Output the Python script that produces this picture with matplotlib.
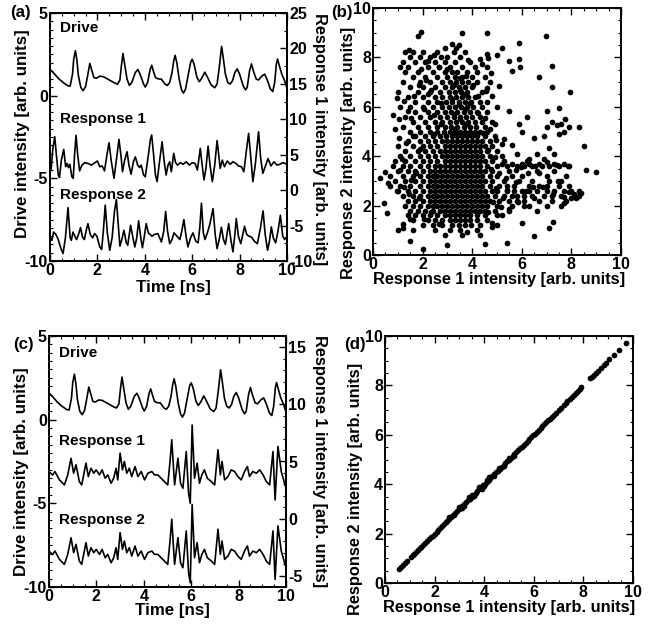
import matplotlib
matplotlib.use('Agg')
import matplotlib.pyplot as plt
from matplotlib.ticker import MultipleLocator

plt.rcParams['font.family'] = ['Liberation Sans', 'DejaVu Sans']
plt.rcParams['font.weight'] = 'bold'
plt.rcParams['axes.labelweight'] = 'bold'
plt.rcParams['axes.unicode_minus'] = False

# ---------------- data ----------------
drive = [(0.00, 1.60), (0.10, 1.45), (0.20, 1.30), (0.35, 1.05), (0.55, 0.80), (0.75, 0.60),
         (0.85, 0.58), (0.95, 1.30), (1.00, 2.20), (1.07, 2.72), (1.13, 2.20), (1.20, 1.20),
         (1.30, 0.50), (1.40, 0.30), (1.50, 0.55), (1.60, 1.30), (1.68, 1.95), (1.75, 1.60),
         (1.85, 1.10), (1.95, 1.05), (2.10, 1.18), (2.25, 1.15), (2.50, 0.95), (2.75, 0.75),
         (2.85, 0.70), (2.95, 0.95), (3.02, 1.90), (3.08, 2.55), (3.15, 1.90), (3.25, 1.00),
         (3.35, 0.62), (3.45, 0.80), (3.60, 1.40), (3.71, 1.58), (3.80, 1.30), (3.95, 0.70),
         (4.02, 0.52), (4.12, 0.80), (4.22, 1.55), (4.29, 1.84), (4.36, 1.50), (4.45, 1.10),
         (4.55, 1.02), (4.70, 1.00), (4.85, 0.70), (4.95, 0.62), (5.05, 0.80), (5.15, 1.40),
         (5.22, 2.10), (5.28, 2.44), (5.35, 2.00), (5.45, 1.00), (5.55, 0.35), (5.63, 0.15),
         (5.72, 0.40), (5.85, 1.40), (5.94, 2.05), (6.00, 2.20), (6.08, 1.90), (6.20, 1.10),
         (6.30, 0.85), (6.40, 1.05), (6.53, 1.42), (6.65, 1.10), (6.80, 0.65), (6.95, 0.48),
         (7.05, 0.70), (7.15, 1.80), (7.24, 2.98), (7.30, 2.40), (7.40, 1.30), (7.50, 0.80),
         (7.60, 0.70), (7.70, 0.90), (7.80, 1.40), (7.90, 1.62), (8.00, 1.30), (8.15, 0.60),
         (8.25, 0.35), (8.32, 0.50), (8.42, 1.50), (8.50, 1.92), (8.58, 1.50), (8.70, 1.00),
         (8.80, 0.95), (8.95, 1.20), (9.06, 1.30), (9.18, 0.90), (9.30, 0.40), (9.40, 0.25),
         (9.48, 0.80), (9.55, 1.90), (9.60, 2.22), (9.68, 1.80), (9.78, 1.30), (9.90, 0.90),
         (10.00, 0.45)]

resp1_a = [(0.00, -4.70), (0.05, -4.40), (0.12, -3.20), (0.20, -2.48), (0.27, -3.60), (0.35, -4.80),
           (0.40, -4.95), (0.48, -3.90), (0.58, -3.25), (0.66, -4.30), (0.72, -4.10), (0.78, -4.35),
           (0.84, -4.15), (0.92, -4.90), (0.98, -5.00), (1.04, -3.50), (1.10, -2.40), (1.17, -3.60),
           (1.25, -4.55), (1.35, -4.20), (1.46, -4.05), (1.60, -4.10), (1.75, -4.20), (1.90, -4.05),
           (2.00, -3.95), (2.10, -4.30), (2.20, -4.25), (2.30, -4.55), (2.40, -3.60), (2.49, -2.85),
           (2.58, -3.90), (2.70, -5.00), (2.80, -3.90), (2.91, -2.64), (3.00, -3.70), (3.06, -4.60),
           (3.15, -3.90), (3.25, -3.39), (3.33, -4.20), (3.42, -4.75), (3.52, -4.00), (3.60, -3.70),
           (3.70, -4.20), (3.78, -4.35), (3.85, -4.20), (3.95, -4.80), (4.02, -4.90), (4.15, -3.60),
           (4.23, -2.70), (4.29, -2.38), (4.36, -3.40), (4.45, -4.80), (4.52, -5.20), (4.62, -4.00),
           (4.73, -2.79), (4.82, -4.00), (4.90, -4.80), (4.98, -4.20), (5.05, -4.00), (5.12, -4.60),
           (5.22, -3.49), (5.30, -4.05), (5.38, -4.20), (5.50, -4.05), (5.62, -4.15), (5.75, -4.00),
           (5.88, -4.20), (6.00, -4.05), (6.12, -4.10), (6.22, -4.50), (6.34, -3.19), (6.42, -4.20),
           (6.50, -5.10), (6.58, -4.40), (6.67, -3.05), (6.76, -4.30), (6.85, -5.20), (6.95, -4.20),
           (7.05, -2.72), (7.12, -3.60), (7.18, -4.40), (7.27, -3.90), (7.36, -4.30), (7.48, -3.95),
           (7.60, -4.15), (7.72, -4.00), (7.85, -4.10), (7.95, -4.25), (8.08, -4.30), (8.18, -4.60),
           (8.28, -3.40), (8.38, -2.28), (8.47, -3.70), (8.56, -5.20), (8.66, -4.20), (8.80, -2.18),
           (8.89, -3.80), (8.98, -4.70), (9.08, -4.30), (9.20, -3.80), (9.32, -4.25), (9.45, -4.00),
           (9.58, -4.20), (9.70, -4.15), (9.82, -4.05), (10.00, -4.15)]

resp2_a = [(0.00, -8.55), (0.08, -8.75), (0.15, -8.25), (0.25, -8.40), (0.35, -8.70), (0.45, -9.20),
           (0.55, -9.55), (0.65, -8.60), (0.76, -6.77), (0.85, -8.60), (0.90, -8.75), (0.97, -8.25),
           (1.05, -8.50), (1.12, -8.70), (1.20, -8.40), (1.29, -7.98), (1.37, -8.55), (1.45, -8.70),
           (1.52, -8.20), (1.60, -7.74), (1.70, -8.40), (1.80, -8.60), (1.88, -8.34), (1.98, -8.50),
           (2.10, -9.15), (2.18, -9.30), (2.25, -8.20), (2.33, -6.62), (2.42, -8.30), (2.52, -9.35),
           (2.62, -8.60), (2.72, -7.00), (2.80, -6.28), (2.88, -7.80), (2.95, -9.10), (3.03, -8.70),
           (3.12, -8.14), (3.22, -8.90), (3.28, -9.05), (3.40, -7.84), (3.50, -8.60), (3.58, -9.15),
           (3.66, -8.60), (3.74, -7.57), (3.84, -8.70), (3.90, -9.20), (3.98, -8.50), (4.06, -7.74),
           (4.15, -8.30), (4.30, -8.50), (4.40, -8.40), (4.55, -8.34), (4.70, -8.85), (4.80, -8.20),
           (4.88, -7.00), (4.96, -8.20), (5.05, -8.95), (5.15, -8.70), (5.23, -8.30), (5.36, -8.50),
           (5.48, -8.70), (5.56, -8.20), (5.65, -7.49), (5.74, -8.50), (5.82, -9.15), (5.93, -8.60),
           (6.03, -8.30), (6.15, -8.80), (6.25, -8.90), (6.32, -8.00), (6.39, -6.50), (6.47, -8.30),
           (6.54, -8.70), (6.64, -8.30), (6.74, -7.80), (6.88, -6.83), (6.97, -8.40), (7.05, -9.25),
           (7.14, -8.70), (7.23, -7.96), (7.32, -8.70), (7.40, -9.00), (7.54, -7.74), (7.64, -8.80),
           (7.72, -9.45), (7.80, -8.40), (7.86, -7.43), (7.95, -8.50), (8.05, -8.95), (8.21, -7.90),
           (8.30, -8.40), (8.40, -8.50), (8.50, -8.55), (8.62, -8.80), (8.75, -8.95), (8.88, -8.00),
           (8.99, -6.97), (9.08, -8.40), (9.18, -9.35), (9.26, -8.80), (9.34, -7.94), (9.42, -8.60),
           (9.52, -8.90), (9.62, -8.20), (9.72, -7.23), (9.82, -8.50), (9.90, -8.70), (10.00, -8.50)]

resp_c = [(0.00, -3.10), (0.15, -3.31), (0.25, -3.10), (0.44, -3.60), (0.65, -3.90), (0.79, -3.30),
          (0.93, -2.31), (1.04, -3.20), (1.14, -2.70), (1.28, -3.70), (1.38, -3.90), (1.56, -2.60),
          (1.66, -3.40), (1.77, -2.90), (1.89, -3.20), (1.99, -3.00), (2.13, -3.30), (2.24, -3.00),
          (2.37, -3.50), (2.48, -3.30), (2.62, -3.80), (2.73, -3.50), (2.83, -2.90), (2.90, -3.60),
          (3.00, -2.00), (3.10, -3.00), (3.18, -2.50), (3.28, -3.20), (3.39, -2.90), (3.49, -3.40),
          (3.63, -2.80), (3.75, -3.40), (3.89, -3.10), (4.03, -3.60), (4.17, -3.20), (4.34, -3.10),
          (4.45, -3.30), (4.59, -3.30), (4.80, -3.60), (5.01, -3.90), (5.10, -2.60), (5.18, -1.20),
          (5.24, -2.60), (5.30, -3.90), (5.44, -2.30), (5.55, -3.80), (5.65, -4.10), (5.79, -1.90),
          (5.89, -4.40), (5.96, -5.00), (6.04, -0.32), (6.14, -3.50), (6.25, -2.60), (6.35, -3.80),
          (6.45, -3.30), (6.56, -3.00), (6.68, -3.50), (6.85, -3.70), (6.99, -3.90), (7.13, -1.80),
          (7.23, -3.30), (7.30, -2.50), (7.41, -3.60), (7.55, -3.40), (7.69, -3.00), (7.83, -3.10),
          (7.97, -3.40), (8.11, -3.60), (8.25, -3.10), (8.37, -2.80), (8.46, -3.40), (8.60, -3.10),
          (8.75, -3.20), (8.89, -3.00), (9.03, -3.30), (9.17, -3.70), (9.31, -3.90), (9.45, -1.90),
          (9.54, -4.80), (9.66, -1.60), (9.80, -3.10), (9.94, -3.80), (10.00, -4.10)]
resp2_offset_c = 4.75  # Response 2 trace in (c) is drawn 4.75 units below Response 1

# scatter (b): dense rows (y, [x ...]) and individual points (x, y)
b_rows = [
    (8.2, [1.3, 1.6, 2.0, 2.6, 3.25, 3.7]),
    (8.0, [1.5, 1.9, 2.3, 2.75, 3.0, 3.5]),
    (7.8, [1.2, 1.7, 2.1, 2.5, 2.9, 3.3, 3.9]),
    (7.6, [1.1, 1.4, 2.2, 2.65, 3.1, 3.6, 4.1, 4.6]),
    (7.4, [1.8, 2.4, 2.9, 3.2, 3.8, 4.2]),
    (7.2, [1.6, 2.1, 2.6, 3.0, 3.3, 3.6, 4.0, 4.5]),
    (7.0, [1.2, 1.9, 2.3, 2.8, 3.1, 3.35, 3.6, 3.85, 4.2]),
    (6.8, [1.5, 2.0, 2.5, 2.9, 3.2, 3.45, 3.7, 4.0]),
    (6.6, [1.0, 1.8, 2.3, 2.7, 3.05, 3.3, 3.55, 3.8, 4.4]),
    (6.4, [1.4, 2.0, 2.5, 2.8, 3.1, 3.35, 3.6, 3.85, 4.1]),
    (6.2, [1.7, 2.2, 2.6, 2.95, 3.2, 3.45, 3.7, 3.95, 4.3, 4.6]),
    (6.0, [1.1, 1.5, 2.0, 2.4, 2.8, 3.05, 3.3, 3.55, 3.8, 4.05, 4.4]),
    (5.8, [1.7, 2.2, 2.6, 2.9, 3.15, 3.4, 3.65, 3.9, 4.2, 4.6]),
    (5.6, [1.3, 1.9, 2.3, 2.7, 3.0, 3.25, 3.5, 3.75, 4.0, 4.3]),
    (5.4, [1.6, 2.1, 2.5, 2.8, 3.1, 3.35, 3.6, 3.85, 4.1, 4.4, 4.8]),
    (5.2, [1.8, 2.2, 2.6, 2.9, 3.15, 3.4, 3.65, 3.9, 4.15, 4.5]),
    (5.0, [1.5, 1.9, 2.3, 2.6, 2.85, 3.1, 3.3, 3.5, 3.7, 3.9, 4.1, 4.3, 4.6]),
    (4.8, [1.7, 2.1, 2.4, 2.7, 2.95, 3.2, 3.4, 3.6, 3.8, 4.0, 4.2, 4.5, 4.9]),
    (4.6, [1.4, 1.9, 2.2, 2.5, 2.8, 3.0, 3.2, 3.4, 3.6, 3.8, 4.0, 4.2, 4.4, 4.7]),
    (4.4, [1.0, 1.6, 2.0, 2.3, 2.6, 2.9, 3.1, 3.3, 3.5, 3.7, 3.9, 4.1, 4.3, 4.5, 4.8]),
    (4.2, [1.3, 1.8, 2.1, 2.4, 2.7, 2.9, 3.1, 3.3, 3.5, 3.7, 3.9, 4.1, 4.3, 4.6, 5.0]),
    (4.0, [1.1, 1.5, 1.9, 2.2, 2.5, 2.8, 3.0, 3.2, 3.4, 3.6, 3.8, 4.0, 4.2, 4.4, 4.7, 5.2]),
    (3.8, [0.9, 1.3, 1.7, 2.0, 2.3, 2.6, 2.9, 3.1, 3.3, 3.5, 3.7, 3.9, 4.1, 4.3, 4.5, 4.8, 5.3]),
    (3.6, [0.8, 1.2, 1.5, 1.9, 2.2, 2.5, 2.7, 2.9, 3.1, 3.3, 3.5, 3.7, 3.9, 4.1, 4.3, 4.6, 5.0, 5.4, 5.8, 6.1, 6.4, 6.8, 7.1, 7.5, 7.9]),
    (3.4, [1.0, 1.4, 1.7, 2.0, 2.3, 2.5, 2.7, 2.9, 3.1, 3.3, 3.5, 3.7, 3.9, 4.1, 4.3, 4.5, 4.8, 5.5, 6.6, 7.3]),
    (3.2, [0.7, 1.2, 1.6, 1.9, 2.2, 2.4, 2.6, 2.8, 3.0, 3.2, 3.4, 3.6, 3.8, 4.0, 4.2, 4.4, 4.7, 5.0, 5.6, 6.0, 7.0, 7.8]),
    (3.0, [0.9, 1.3, 1.7, 2.0, 2.3, 2.5, 2.7, 2.9, 3.1, 3.3, 3.5, 3.7, 3.9, 4.1, 4.3, 4.5, 4.8, 5.3, 5.9, 6.4, 7.1, 7.6]),
    (2.8, [0.7, 1.1, 1.5, 1.9, 2.2, 2.4, 2.6, 2.8, 3.0, 3.2, 3.4, 3.6, 3.8, 4.0, 4.2, 4.4, 4.7, 5.1, 5.4, 5.7, 6.3, 6.7, 7.0, 7.5, 7.9]),
    (2.6, [1.0, 1.4, 1.7, 2.0, 2.3, 2.5, 2.7, 2.9, 3.1, 3.3, 3.5, 3.7, 3.9, 4.1, 4.3, 4.5, 4.8, 5.0, 5.4, 5.7, 6.0, 6.3, 6.6, 7.0, 7.3, 7.7, 8.0]),
    (2.4, [1.2, 1.6, 1.9, 2.2, 2.4, 2.6, 2.8, 3.0, 3.2, 3.4, 3.6, 3.8, 4.0, 4.2, 4.4, 4.6, 4.9, 5.3, 5.6, 5.8, 6.1, 6.4, 6.9, 7.2, 7.6, 8.3]),
    (2.2, [1.4, 1.7, 2.0, 2.3, 2.5, 2.7, 2.9, 3.1, 3.3, 3.5, 3.7, 3.9, 4.1, 4.3, 4.5, 4.7, 5.1, 5.5, 5.8, 6.1, 6.7, 7.2, 7.8]),
    (2.0, [1.3, 1.6, 1.9, 2.2, 2.4, 2.6, 2.8, 3.0, 3.2, 3.4, 3.6, 3.8, 4.0, 4.2, 4.4, 4.6, 5.0, 5.6, 6.3, 7.0, 7.6]),
    (1.8, [1.5, 1.8, 2.1, 2.4, 2.7, 2.9, 3.1, 3.3, 3.5, 3.7, 3.9, 4.1, 4.3, 4.5, 4.9, 5.5, 6.6]),
    (1.6, [1.4, 1.7, 2.0, 2.3, 2.6, 2.9, 3.1, 3.3, 3.5, 3.7, 3.9, 4.2, 4.5, 5.0]),
    (1.4, [1.6, 2.2, 2.5, 2.8, 3.1, 3.3, 3.5, 3.7, 3.9, 4.2, 4.6]),
    (1.2, [2.0, 2.4, 2.8, 3.2, 3.45, 3.7, 3.95, 4.3, 5.0]),
]
b_points = [(1.92, 9.03), (1.81, 8.85), (3.58, 8.97), (4.6, 8.98), (6.98, 8.87), (5.9, 8.57),
            (3.2, 8.55), (3.48, 8.5), (1.45, 8.3), (2.9, 8.38), (3.35, 8.4), (5.2, 8.4),
            (4.6, 8.13), (5.0, 8.1), (4.3, 7.92), (4.65, 7.98), (5.9, 7.95), (5.5, 7.85),
            (4.4, 7.75), (7.2, 7.65), (5.92, 7.6), (5.6, 7.45), (1.3, 7.42), (4.75, 7.35),
            (6.7, 7.2), (4.7, 7.02), (7.22, 6.8), (5.1, 6.85), (4.6, 6.78), (4.55, 6.65),
            (4.8, 6.45), (7.95, 6.6), (7.5, 5.95), (5.0, 6.0), (7.0, 5.85), (0.8, 5.65),
            (0.95, 6.35), (6.2, 5.6), (5.5, 5.85), (5.9, 5.3), (7.2, 5.4), (7.0, 5.2),
            (7.4, 5.25), (7.6, 5.3), (7.75, 5.5), (7.9, 5.2), (8.3, 5.2), (6.5, 4.75),
            (6.9, 4.8), (7.5, 4.9), (7.7, 5.0), (5.3, 4.7), (5.6, 4.45), (6.0, 5.0),
            (4.9, 5.3), (7.1, 4.35), (7.3, 4.1), (8.5, 4.4), (6.6, 4.1), (5.2, 4.5),
            (5.8, 4.1), (6.3, 3.9), (6.9, 3.9), (6.2, 3.8), (7.0, 3.78), (0.9, 5.1),
            (1.2, 5.2), (1.05, 4.75), (5.2, 3.68), (5.6, 3.7), (6.0, 3.68), (6.3, 3.7),
            (6.7, 3.68), (7.3, 3.7), (7.7, 3.68), (8.6, 3.45), (9.0, 3.35), (0.5, 3.35),
            (0.3, 3.1), (0.6, 2.9), (8.4, 2.5), (8.2, 2.3), (8.3, 2.6), (7.7, 2.1),
            (8.0, 2.3), (7.9, 2.55), (6.0, 1.3), (6.5, 0.78), (7.1, 1.1), (7.25, 1.35),
            (5.5, 1.85), (6.1, 2.0), (2.0, 0.25), (3.0, 0.4), (4.5, 0.45), (5.4, 0.48),
            (1.5, 0.55), (0.45, 2.1), (0.55, 1.7), (0.95, 2.6), (1.0, 1.0), (1.2, 1.1),
            (1.6, 1.0), (2.5, 1.0), (3.1, 1.0), (3.5, 1.0), (3.8, 0.95), (4.2, 1.0),
            (2.9, 0.8), (3.6, 0.8), (4.3, 0.8), (1.2, 1.25), (1.5, 1.45), (4.8, 1.3),
            (5.2, 1.6), (4.8, 1.15), (3.0, 7.55), (3.4, 7.4), (3.5, 7.15), (3.75, 7.25),
            (1.15, 3.9), (1.35, 4.55), (1.55, 5.55), (1.75, 3.3), (1.45, 2.45), (2.05, 5.9),
            (1.85, 6.9), (2.15, 7.1), (1.25, 6.25), (1.65, 6.45), (2.35, 6.7), (2.65, 7.6),
            (1.95, 7.55), (2.45, 8.1), (2.2, 7.85), (3.85, 7.9), (4.05, 6.9), (4.25, 6.45),
            (4.5, 5.55), (4.7, 5.1), (4.65, 4.25), (4.9, 3.95), (4.95, 2.7), (5.25, 2.3),
            (5.35, 3.1), (5.75, 2.95), (6.15, 2.6), (6.5, 2.3), (6.85, 2.75), (7.25, 2.45),
            (7.45, 3.0), (6.7, 3.3), (6.25, 3.3), (5.75, 3.45), (5.15, 1.95), (4.85, 2.15),
            (4.65, 1.75), (4.75, 3.5), (1.55, 3.05), (1.1, 3.45), (1.25, 2.75), (1.85, 2.3),
            (2.05, 1.45), (2.65, 1.25), (2.35, 1.75), (1.9, 4.3), (1.6, 4.8), (2.45, 5.65),
            (2.75, 6.15), (2.2, 6.5), (1.4, 5.85), (1.05, 5.5), (3.9, 6.15), (4.25, 5.75),
            (4.45, 4.95), (4.95, 4.65), (5.1, 3.3), (5.4, 2.65), (5.85, 2.15), (6.45, 2.75),
            (7.7, 2.35), (8.1, 2.45), (7.4, 3.65), (7.85, 3.62), (6.55, 3.62), (5.95, 3.58),
            (3.25, 6.9), (3.5, 6.7), (3.7, 6.5), (3.2, 6.3), (3.45, 6.1), (3.7, 5.9),
            (3.25, 5.7), (3.5, 5.5), (3.75, 5.3), (3.3, 5.1), (2.75, 5.3), (2.45, 4.9)]

# scatter (d): Response 2 equals Response 1 after synchronisation
d_x = [0.55, 0.65, 0.72, 0.8, 0.88, 1.05, 1.12, 1.18, 1.25, 1.32, 1.4, 1.47, 1.55, 1.62, 1.7,
       1.78, 1.85, 1.92, 2.0, 2.08, 2.15, 2.22, 2.3, 2.38, 2.45, 2.52, 2.6, 2.68, 2.75, 2.82,
       2.9, 2.98, 3.05, 3.12, 3.2, 3.28, 3.35, 3.42, 3.5, 3.58, 3.65, 3.72, 3.8, 3.88, 3.95,
       4.02, 4.1, 4.18, 4.25, 4.32, 4.4, 4.48, 4.55, 4.62, 4.7, 4.78, 4.85, 4.92, 5.0, 5.08,
       5.15, 5.22, 5.3, 5.38, 5.45, 5.52, 5.6, 5.68, 5.75, 5.82, 5.9, 5.98, 6.05, 6.12, 6.2,
       6.28, 6.35, 6.42, 6.5, 6.58, 6.65, 6.72, 6.8, 6.9, 7.0, 7.1, 7.2, 7.28, 7.35, 7.45,
       7.55, 7.62, 7.7, 7.78, 7.85, 7.92, 8.28, 8.35, 8.42, 8.5, 8.6, 8.7, 8.82, 8.92, 9.05,
       9.22, 9.45, 9.72]
d_y = list(d_x)
d_extra = [(2.6, 2.66), (2.8, 2.74), (3.0, 3.08), (3.2, 3.12), (3.4, 3.48), (3.6, 3.52),
           (3.8, 3.88), (4.0, 3.92), (4.2, 4.28), (4.4, 4.32), (4.6, 4.67), (4.8, 4.73),
           (5.0, 5.06), (5.2, 5.14), (3.1, 3.02), (3.5, 3.58), (3.9, 3.82), (4.1, 4.18)]

# ---------------- figure ----------------
W, H = 659, 624
fig = plt.figure(figsize=(W / 100, H / 100), dpi=100)


def rect(l, t, r, b):
    return [l / W, 1 - b / H, (r - l) / W, (b - t) / H]


TICK_FS = 11.5
LAB_FS = 12.2
SC_LAB_FS = 11.8
SPW = 1.4


def style(ax, xmin, ymin, right=True):
    for s in ax.spines.values():
        s.set_linewidth(SPW)
    ax.xaxis.set_minor_locator(MultipleLocator(xmin))
    ax.yaxis.set_minor_locator(MultipleLocator(ymin))
    ax.tick_params(which='both', direction='in', top=True, right=right, labelsize=TICK_FS, width=1.0)
    ax.tick_params(which='major', length=5)
    ax.tick_params(which='minor', length=2.5, width=0.8)
    ax.tick_params(axis='x', pad=1.5)
    ax.tick_params(axis='y', pad=1.5)


def split(pairs):
    return [p[0] for p in pairs], [p[1] for p in pairs]


def timeseries(ax_rect, traces, right_lim, right_minor, texts, letter, letter_xy):
    ax = fig.add_axes(ax_rect)
    for t, v in traces:
        ax.plot(t, v, color='k', lw=1.2)
    ax.set_xlim(0, 10)
    ax.set_ylim(-10, 5)
    ax.xaxis.set_major_locator(MultipleLocator(2))
    ax.yaxis.set_major_locator(MultipleLocator(5))
    style(ax, 0.5, 0.5, right=False)
    ax.set_xlabel('Time [ns]', fontsize=LAB_FS, va='center')
    ax.set_ylabel('Drive intensity [arb. units]', fontsize=LAB_FS, va='center')
    ax2 = ax.twinx()
    ax2.set_ylim(*right_lim)
    ax2.yaxis.set_major_locator(MultipleLocator(5))
    ax2.yaxis.set_minor_locator(MultipleLocator(right_minor))
    ax2.tick_params(which='both', direction='in', labelsize=TICK_FS, width=1.0, pad=1.5)
    ax2.tick_params(which='major', length=5)
    ax2.tick_params(which='minor', length=2.5, width=0.8)
    for s in ax2.spines.values():
        s.set_linewidth(SPW)
    ax2.set_ylabel('Response 1 intensity [arb. units]', fontsize=SC_LAB_FS, rotation=270, va='center')
    for (tx, ty, s) in texts:
        ax.text(tx, ty, s, fontsize=LAB_FS - 1.2, fontweight='bold', ha='left', va='center')
    fig.text(letter_xy[0] / W, 1 - letter_xy[1] / H, letter, fontsize=LAB_FS, fontweight='bold',
             ha='center', va='center')
    return ax, ax2


# (a)
dt, dv = split(drive)
r1t, r1v = split(resp1_a)
r2t, r2v = split(resp2_a)
axa, axa2 = timeseries(rect(50, 13, 287, 261), [(dt, dv), (r1t, r1v), (r2t, r2v)], (-10, 25), 2.5,
                       [(0.42, 4.1, 'Drive'), (0.42, -1.41, 'Response 1'), (0.42, -6.0, 'Response 2')],
                       '(a)', (20, 13))
axa.xaxis.set_label_coords(0.52, -0.108)
axa.yaxis.set_label_coords(-0.118, 0.514)
axa2.yaxis.set_label_coords(1.137, 0.49)

# (c)
ct, cv = split(resp_c)
cv2 = [v - resp2_offset_c for v in cv]
axc, axc2 = timeseries(rect(49, 336, 286, 587), [(dt, dv), (ct, cv), (ct, cv2)], (-6, 16), 1,
                       [(0.42, 4.0, 'Drive'), (0.42, -1.27, 'Response 1'), (0.42, -6.0, 'Response 2')],
                       '(c)', (23, 344))
axc.xaxis.set_label_coords(0.52, -0.092)
axc.yaxis.set_label_coords(-0.114, 0.458)
axc2.yaxis.set_label_coords(1.14, 0.5)

MS = 4.1
# (b)
axb = fig.add_axes(rect(373, 8, 621, 255))
bx, by = [], []
for y, xs in b_rows:
    for x in xs:
        bx.append(x)
        by.append(y)
px, py = split(b_points)
axb.plot(bx + px, by + py, 'o', color='k', ms=MS, mew=0)
axb.set_xlim(0, 10)
axb.set_ylim(0, 10)
axb.xaxis.set_major_locator(MultipleLocator(2))
axb.yaxis.set_major_locator(MultipleLocator(2))
style(axb, 0.5, 0.5)
axb.set_xlabel('Response 1 intensity [arb. units]', fontsize=SC_LAB_FS, va='center')
axb.set_ylabel('Response 2 intensity [arb. units]', fontsize=SC_LAB_FS, va='center')
axb.xaxis.set_label_coords(0.51, -0.1)
axb.yaxis.set_label_coords(-0.10, 0.415)
fig.text(342 / W, 1 - 12 / H, '(b)', fontsize=LAB_FS, fontweight='bold', ha='center', va='center')

# (d)
axd = fig.add_axes(rect(385, 336, 633, 583))
ex, ey = split(d_extra)
axd.plot(d_x + ex, d_y + ey, 'o', color='k', ms=MS, mew=0)
axd.set_xlim(0, 10)
axd.set_ylim(0, 10)
axd.xaxis.set_major_locator(MultipleLocator(2))
axd.yaxis.set_major_locator(MultipleLocator(2))
style(axd, 0.5, 0.5)
axd.set_xlabel('Response 1 intensity [arb. units]', fontsize=SC_LAB_FS, va='center')
axd.set_ylabel('Response 2 intensity [arb. units]', fontsize=SC_LAB_FS, va='center')
axd.xaxis.set_label_coords(0.5, -0.1)
axd.yaxis.set_label_coords(-0.117, 0.38)
fig.text(355 / W, 1 - 345 / H, '(d)', fontsize=LAB_FS, fontweight='bold', ha='center', va='center')

fig.savefig('out.png', dpi=100)
